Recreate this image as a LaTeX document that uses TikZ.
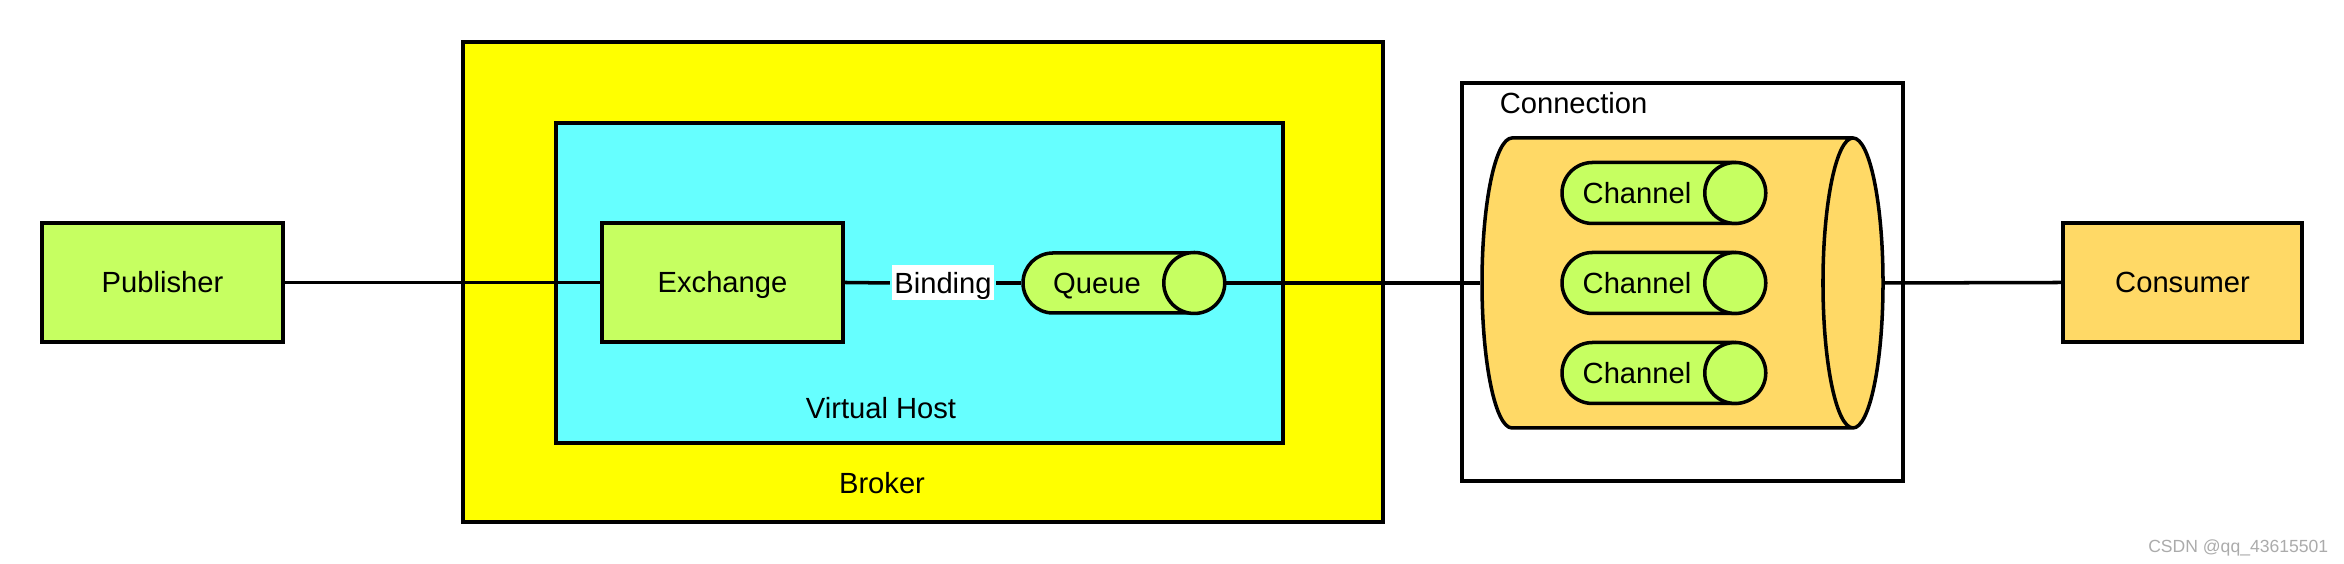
\documentclass[tikz,border=0pt]{standalone}
\usepackage{fontspec}
\setmainfont{Liberation Sans}
\usetikzlibrary{shapes.geometric, shapes.misc}
\definecolor{limegreen}{HTML}{C6FF61}
\definecolor{vhostcyan}{HTML}{66FFFF}
\definecolor{brokeryellow}{HTML}{FFFF00}
\definecolor{connorange}{HTML}{FFD966}
\definecolor{markgray}{HTML}{ABABAB}

\begin{document}
\begin{tikzpicture}[line width=1pt,
    every node/.style={font=\fontsize{8.3}{10}\selectfont, text height=5.95pt, text depth=0pt},
    block/.style={draw, minimum width=2.41cm, minimum height=1.19cm},
    pipe/.style={rounded rectangle, draw, fill=limegreen, inner sep=0pt,
        minimum width=2.02cm, minimum height=0.61cm, execute at end node={\hspace*{5.2mm}}},
    plain/.style={inner sep=0pt}]
    \useasboundingbox (0,0) rectangle (23.44,5.64);

    % Broker and virtual host
    \node[draw, fill=brokeryellow, minimum width=9.2cm, minimum height=4.8cm] (broker) at (9.23,2.82) {};
    \node[draw, fill=vhostcyan, minimum width=7.27cm, minimum height=3.2cm] (vhost) at (9.195,2.81) {};
    \node[plain] (brokerlabel) at (8.82,0.81) {Broker};
    \node[plain] (vhostlabel) at (8.81,1.56) {Virtual Host};

    % Connection with its channels
    \node[draw, minimum width=4.41cm, minimum height=3.98cm] (connbox) at (16.825,2.82) {};
    \node[plain, anchor=west] (connlabel) at (14.98,4.61) {Connection};
    \node[cylinder, draw, fill=connorange, aspect=0.207, inner xsep=0pt, inner ysep=1.45cm,
        text height=0pt, text depth=0pt, anchor=shape center, minimum height=4.01cm] (conn) at (16.825,2.81) {};
    \foreach \y/\name in {3.71/chtop, 2.81/chmid, 1.91/chbot}
        \node[pipe] (\name) at (16.63,\y) {Channel};

    % Publisher, exchange, queue, consumer
    \node[block, fill=limegreen] (publisher) at (1.625,2.815) {Publisher};
    \node[block, fill=limegreen] (exchange) at (7.225,2.815) {Exchange};
    \node[pipe, minimum width=2cm, minimum height=0.6cm] (queue) at (11.23,2.81) {Queue};
    \node[block, fill=connorange, minimum width=2.39cm] (consumer) at (21.825,2.815) {Consumer};
    \node[fill=white, inner xsep=0.8pt, inner ysep=2pt] (binding) at (9.43,2.81) {Binding};

    % End caps of the pipes
    \foreach \name in {queue, chtop, chmid, chbot}
        \draw[fill=limegreen] ([xshift=-0.305cm]\name.east) circle[radius=0.305cm];

    % Connectors
    \draw (publisher.east) -- (exchange.west);
    \draw (exchange.east) -- (binding.west);
    \draw (binding.east) -- (queue.west);
    \draw (queue.east) -- (conn.west);
    \draw (conn.east) -- (consumer.west);

    % Watermark
    \node[plain, anchor=east, text=markgray, font=\fontsize{5}{6}\selectfont] (mark) at (23.30,0.22) {CSDN @qq\_43615501};
\end{tikzpicture}
\end{document}
